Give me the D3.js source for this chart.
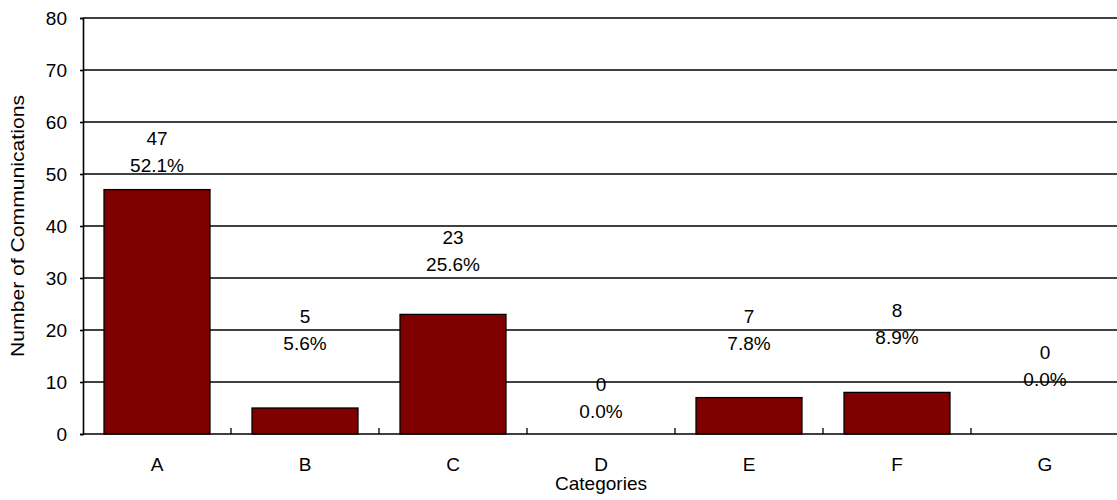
<!DOCTYPE html>
<html><head><meta charset="utf-8">
<script src="https://cdn.jsdelivr.net/npm/d3@7"></script>
<style>body{margin:0;background:#fff}svg{display:block;font-family:"Liberation Sans",Arial,sans-serif}</style>
</head><body><svg id="c" width="1117" height="500"></svg>
<script>
const categories = ["A","B","C","D","E","F","G"];
const counts = [47,5,23,0,7,8,0];
const percents = ["52.1%","5.6%","25.6%","0.0%","7.8%","8.9%","0.0%"];
const yTicks = [0,10,20,30,40,50,60,70,80];
// label offsets (px above each bar top for the percent line) - styling only
const labelLift = [24,65,50,23,54,55,55];

const FONT = "Liberation Sans, Arial, sans-serif";
const FS = 19;
const svg = d3.select("#c");
const m = {left:83, right:1119, top:18, bottom:434};
const x = d3.scaleBand().domain(categories).range([m.left, m.right]).paddingInner(0.284).paddingOuter(0.142);
const xb = d3.scaleBand().domain(categories).range([m.left, m.right]);
const y = d3.scaleLinear().domain([0,80]).range([m.bottom, m.top]);

// gridlines
svg.append("g").selectAll("line").data(yTicks.filter(d=>d>0)).join("line")
  .attr("x1", m.left).attr("x2", m.right).attr("y1", d=>y(d)).attr("y2", d=>y(d))
  .attr("stroke","#000").attr("stroke-width",1.6);

// y axis
const ya = svg.append("g").attr("transform",`translate(${m.left},0)`)
  .call(d3.axisLeft(y).tickValues(yTicks).tickSize(3).tickPadding(13));
ya.select(".domain").attr("stroke","#000").attr("stroke-width",1.6);
ya.selectAll("text").attr("font-size",FS).attr("fill","#000").attr("font-family",FONT);
ya.selectAll("line").attr("stroke-width",1.6);

// bars
svg.append("g").selectAll("rect").data(categories).join("rect")
  .attr("x", d=>x(d)).attr("width", x.bandwidth())
  .attr("y", (d,i)=>y(counts[i])).attr("height", (d,i)=>m.bottom - y(counts[i]))
  .attr("fill","#800000").attr("stroke","#000").attr("stroke-width",1.3);

// x axis
svg.append("line").attr("x1",m.left).attr("x2",m.right).attr("y1",m.bottom).attr("y2",m.bottom)
  .attr("stroke","#000").attr("stroke-width",1.6);
svg.append("g").selectAll("line").data(categories.slice(1)).join("line")
  .attr("x1", d=>xb(d)).attr("x2", d=>xb(d)).attr("y1", m.bottom).attr("y2", m.bottom-6)
  .attr("stroke","#000").attr("stroke-width",1.3);
svg.append("g").selectAll("text").data(categories).join("text")
  .attr("x", d=>xb(d)+xb.bandwidth()/2).attr("y", 471).attr("text-anchor","middle")
  .attr("font-size",FS).text(d=>d);

// data labels
const lab = svg.append("g").attr("font-size",FS).attr("text-anchor","middle");
categories.forEach((c,i)=>{
  const cx = xb(c)+xb.bandwidth()/2;
  const base = y(counts[i]) - labelLift[i];
  lab.append("text").attr("x",cx).attr("y",base - 27).attr("dy","0.35em").text(counts[i]);
  lab.append("text").attr("x",cx).attr("y",base).attr("dy","0.35em").text(percents[i]);
});

// titles
svg.append("text").attr("x",(m.left+m.right)/2).attr("y",490).attr("text-anchor","middle")
  .attr("font-size",FS).attr("textLength",92).attr("lengthAdjust","spacingAndGlyphs").text("Categories");
svg.append("text").attr("transform",`translate(24,${(m.top+m.bottom)/2}) rotate(-90)`)
  .attr("text-anchor","middle").attr("font-size",FS)
  .attr("textLength",262).attr("lengthAdjust","spacingAndGlyphs").text("Number of Communications");
</script></body></html>
